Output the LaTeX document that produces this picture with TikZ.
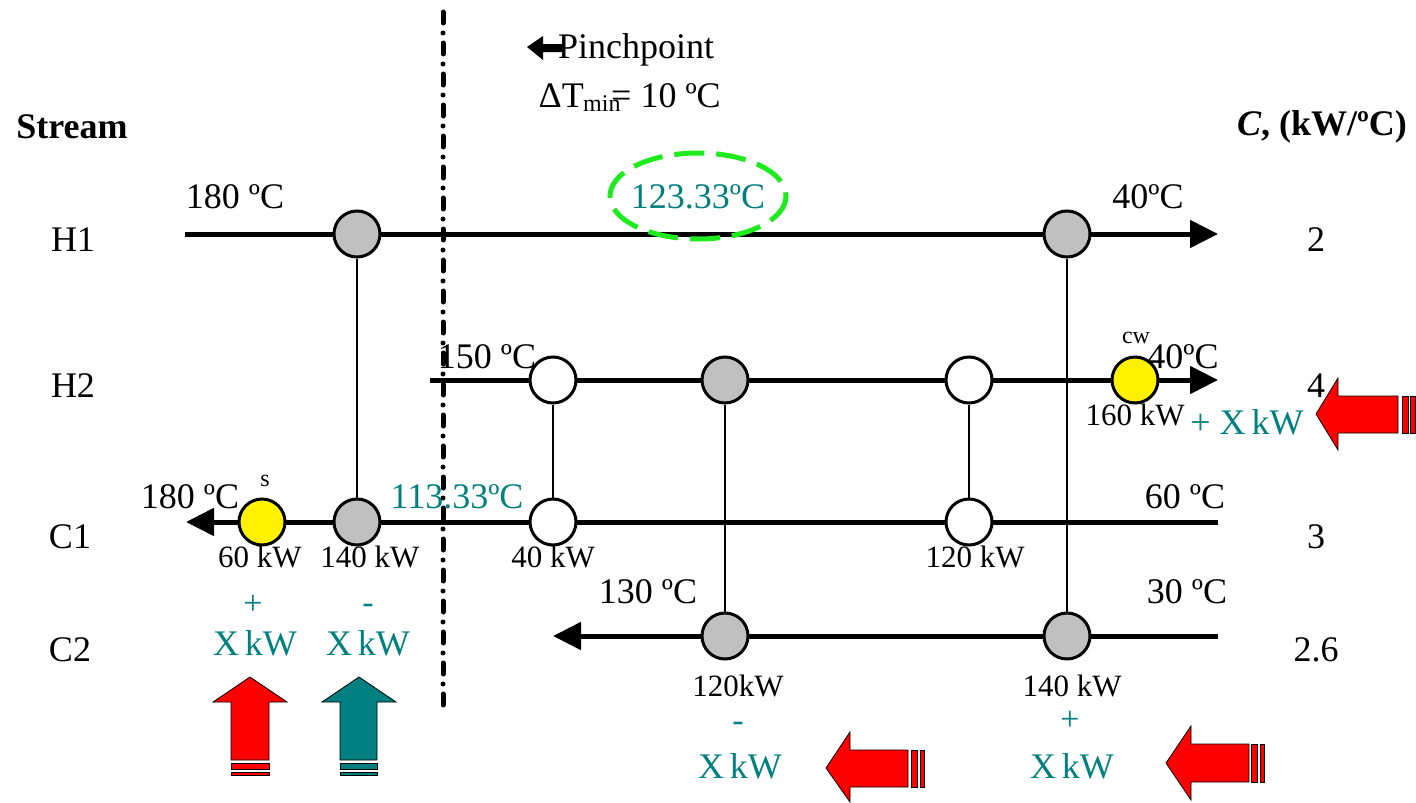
\documentclass[tikz,border=0pt]{standalone}
\usepackage{fontspec}
\setmainfont{Liberation Serif}
\usetikzlibrary{arrows.meta,backgrounds}
\definecolor{tealc}{RGB}{0,128,128}
\definecolor{grayc}{RGB}{192,192,192}
\definecolor{lgreen}{RGB}{30,235,30}
\begin{document}
\begin{tikzpicture}[x=1pt,y=-1pt,
 hx/.style={circle, draw=black, line width=3pt, minimum size=46pt, inner sep=0pt},
 gx/.style={hx, fill=grayc}, wx/.style={hx, fill=white}, yx/.style={hx, fill=yellow},
 stream/.style={line width=5pt, -{Triangle[length=28pt,width=27pt]}},
 link/.style={line width=2pt},
 lbl/.style={inner sep=0pt, font=\fontsize{36}{40}\selectfont},
 kw/.style={inner sep=0pt, font=\fontsize{31}{36}\selectfont},
 tl/.style={inner sep=0pt, text=tealc, font=\fontsize{36}{40}\selectfont},
 tk/.style={inner sep=0pt, text=tealc, font=\fontsize{34}{40}\selectfont},
 sm/.style={inner sep=0pt, font=\fontsize{24}{28}\selectfont},
 blk/.style={draw=black, line width=0.8pt}
]
\useasboundingbox (0,0) rectangle (1416,803);

% pinch line
\draw[line width=5pt, line cap=round, dash pattern=on 11pt off 10pt on 0pt off 10pt] (443,12) -- (443,712);

% header
\fill[black] (527,47) -- (543,36) -- (543,44) -- (562,44) -- (562,52) -- (543,52) -- (543,60) -- cycle;
\node[lbl, anchor=west] (pp) at (558,50) {Pinchpoint};
\node[lbl, anchor=east] (dt) at (584,96) {ΔT};
\node[inner sep=0pt, anchor=west, font=\fontsize{24}{28}\selectfont] (dtm) at (583,104) {min};
\node[lbl, anchor=west] (dtv) at (611,96) {= 10 ºC};
\node[lbl, font=\fontsize{36}{40}\selectfont\bfseries] (st) at (72,127) {Stream};
\node[lbl, font=\fontsize{36}{40}\selectfont\bfseries] (cp) at (1322,127) {\textit{C}, (kW/ºC)};

% stream names
\node[lbl] (nh1) at (73,240) {H1};
\node[lbl] (nh2) at (73,386) {H2};
\node[lbl] (nc1) at (70,537) {C1};
\node[lbl] (nc2) at (70,650) {C2};
\node[lbl] (v1) at (1316,240) {2};
\node[lbl] (v2) at (1316,386) {4};
\node[lbl] (v3) at (1316,537) {3};
\node[lbl] (v4) at (1316,650) {2.6};

% exchanger circles
\node[gx] (a1) at (357,234) {};
\node[gx] (a2) at (1067,234) {};
\node[wx] (b1) at (553,380) {};
\node[gx] (b2) at (725,380) {};
\node[wx] (b3) at (969,380) {};
\node[yx] (cw) at (1135,380) {};
\node[yx] (hs) at (262,522) {};
\node[gx] (c1) at (357,522) {};
\node[wx] (c2) at (553,522) {};
\node[wx] (c3) at (969,522) {};
\node[gx] (d1) at (725,636) {};
\node[gx] (d2) at (1067,636) {};

\coordinate (h1s) at (185,234);
\coordinate (h1e) at (1218,234);
\coordinate (h2s) at (430,380);
\coordinate (h2e) at (1218,380);
\coordinate (c1s) at (1218,522);
\coordinate (c1e) at (186,522);
\coordinate (c2s) at (1218,636);
\coordinate (c2e) at (553,636);

\begin{scope}[on background layer]
\fill[white] (0,0) rectangle (1416,803);
\draw[stream] (h1s) -- (h1e);
\draw[stream] (h2s) -- (h2e);
\draw[stream] (c1s) -- (c1e);
\draw[stream] (c2s) -- (c2e);
\end{scope}

\draw[link] (a1) -- (c1);
\draw[link] (a2) -- (d2);
\draw[link] (b1) -- (c2);
\draw[link] (b2) -- (d1);
\draw[link] (b3) -- (c3);

% green dashed ellipse
\draw[lgreen, line width=5pt, dash pattern=on 30pt off 12pt] (698,196) ellipse [x radius=88, y radius=43];

% temperature labels
\node[lbl] (t1) at (235,197) {180 ºC};
\node[lbl] (t2) at (1148,197) {40ºC};
\node[tl] (t3) at (698,197) {123.33ºC};
\node[lbl] (t4) at (487,357) {150 ºC};
\node[sm] (t5) at (1136,338) {cw};
\node[lbl] (t6) at (1183,357) {40ºC};
\node[kw] (t7) at (1135,415) {160 kW};
\node[tl] (t8) at (1247,422) {+ X\,kW};
\node[lbl] (t9) at (190,497) {180 ºC};
\node[sm] (t10) at (265,481) {s};
\node[tl] (t11) at (457,497) {113.33ºC};
\node[lbl] (t12) at (1185,497) {60 ºC};
\node[kw] (k1) at (260,557) {60 kW};
\node[kw] (k2) at (370,557) {140 kW};
\node[kw] (k3) at (553,557) {40 kW};
\node[kw] (k4) at (975,557) {120 kW};
\node[lbl] (t13) at (648,592) {130 ºC};
\node[lbl] (t14) at (1187,592) {30 ºC};
\node[tk] (p1) at (253,605) {+};
\node[tk] (p2) at (368,609) {-};
\node[tl] (x1) at (255,643) {X\,kW};
\node[tl] (x2) at (368,643) {X\,kW};
\node[kw] (k5) at (738,686) {120kW};
\node[kw] (k6) at (1072,686) {140 kW};
\node[tk] (p3) at (738,727) {-};
\node[tk] (p4) at (1070,721) {+};
\node[tl] (x3) at (740,766) {X\,kW};
\node[tl] (x4) at (1072,766) {X\,kW};

% block arrows
\filldraw[red, blk] (250,677) -- (287,702) -- (269,702) -- (269,760) -- (231,760) -- (231,702) -- (213,702) -- cycle;
\filldraw[red, blk] (231,763) rectangle (269,769);
\filldraw[red, blk] (231,772) rectangle (269,775);
\filldraw[tealc, blk] (359,677) -- (396,702) -- (377,702) -- (377,760) -- (340,760) -- (340,702) -- (322,702) -- cycle;
\filldraw[tealc, blk] (340,763) rectangle (377,769);
\filldraw[tealc, blk] (340,772) rectangle (377,775);

\filldraw[red, blk] (826,768) -- (850,732) -- (850,750) -- (908,750) -- (908,787) -- (850,787) -- (850,802) -- cycle;
\filldraw[red, blk] (911,750) rectangle (917,787);
\filldraw[red, blk] (920,750) rectangle (924,787);

\filldraw[red, blk] (1166,763) -- (1191,726) -- (1191,744) -- (1249,744) -- (1249,782) -- (1191,782) -- (1191,800) -- cycle;
\filldraw[red, blk] (1251,744) rectangle (1257,782);
\filldraw[red, blk] (1260,744) rectangle (1264,782);

\filldraw[red, blk] (1316,414) -- (1338,378) -- (1338,396) -- (1398,396) -- (1398,433) -- (1338,433) -- (1338,450) -- cycle;
\filldraw[red, blk] (1402,396) rectangle (1408,433);
\filldraw[red, blk] (1410,396) rectangle (1415,433);
\end{tikzpicture}
\end{document}
